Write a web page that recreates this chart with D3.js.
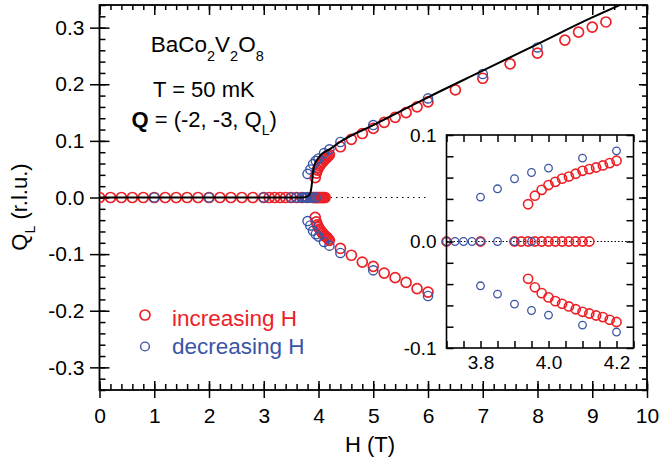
<!DOCTYPE html>
<html>
<head>
<meta charset="utf-8">
<script src="https://cdn.jsdelivr.net/npm/d3@7"></script>
<style>
body { margin: 0; background: #fff; }
text { font-family: "Liberation Sans", Arial, Helvetica, sans-serif; fill: #000; }
</style>
</head>
<body>
<div id="chart"></div>
<script>
// tick labels
var xTicks = [0, 1, 2, 3, 4, 5, 6, 7, 8, 9, 10];
var yTicks = [-0.3, -0.2, -0.1, 0.0, 0.1, 0.2, 0.3];
var insetXTicks = [3.8, 4.0, 4.2];
var insetYTicks = [-0.1, 0.0, 0.1];

// increasing H (red)
var incZeroH = [0, 0.2, 0.4, 0.6, 0.8, 1.0, 1.2, 1.4, 1.6, 1.8, 2.0, 2.2, 2.4, 2.6, 2.8, 3.0,
  3.1, 3.2, 3.3, 3.4, 3.5, 3.6, 3.7, 3.8, 3.9, 3.92, 3.94, 3.96, 3.98, 4.0, 4.02, 4.04, 4.06, 4.08, 4.1, 4.12];
var incUpH = [3.94, 3.96, 3.98, 4.0, 4.02, 4.04, 4.06, 4.08, 4.1, 4.12, 4.14, 4.16, 4.18, 4.2,
  4.4, 4.6, 4.8, 5.0, 5.2, 5.4, 5.6, 5.8, 6.0, 6.5, 7.0, 7.5, 8.0, 8.5, 8.75, 9.0, 9.25];
var incUpQ = [0.035, 0.043, 0.0485, 0.053, 0.056, 0.059, 0.061, 0.0636, 0.0664, 0.068, 0.0695, 0.0714, 0.0736, 0.0758,
  0.0896, 0.1027, 0.113, 0.122, 0.1327, 0.1416, 0.150, 0.160, 0.169, 0.19, 0.2106, 0.236, 0.255, 0.278, 0.292, 0.301, 0.310];
var incDownH = [3.94, 3.96, 3.98, 4.0, 4.02, 4.04, 4.06, 4.08, 4.1, 4.12, 4.14, 4.16, 4.18, 4.2,
  4.4, 4.6, 4.8, 5.0, 5.2, 5.4, 5.6, 5.8, 6.0];
var incDownQ = [-0.035, -0.043, -0.0485, -0.0525, -0.056, -0.0585, -0.061, -0.0636, -0.066, -0.0676, -0.0695, -0.071, -0.0735, -0.0756,
  -0.090, -0.102, -0.114, -0.1216, -0.1334, -0.1416, -0.150, -0.161, -0.167];

// decreasing H (blue)
var decZeroH = [1, 2, 3, 3.5, 3.6, 3.7, 3.725, 3.75, 3.775, 3.8, 3.85, 3.9, 3.95];
var decUpH = [3.8, 3.85, 3.9, 3.95, 4.0, 4.1, 4.2, 4.4, 5, 6, 7, 8];
var decUpQ = [0.0417, 0.0495, 0.0589, 0.0648, 0.0689, 0.0783, 0.0851, 0.098, 0.128, 0.175, 0.218, 0.265];
var decDownH = [3.8, 3.85, 3.9, 3.95, 4.0, 4.1, 4.2, 4.4, 5, 6];
var decDownQ = [-0.0416, -0.0494, -0.0588, -0.0648, -0.0691, -0.0785, -0.085, -0.098, -0.1287, -0.174];

// calculated curve (black) and Q=0 reference
var lineH = [0, 3.7, 3.8, 3.85, 3.88, 3.9, 3.92, 3.95, 4.0, 4.06, 4.2, 4.39, 5.0, 5.43, 6.0, 7.0, 8.0, 9.0, 9.6];
var lineQ = [0, 0, 0.002, 0.008, 0.025, 0.045, 0.055, 0.063, 0.07, 0.077, 0.085, 0.098, 0.128, 0.149, 0.177, 0.224, 0.271, 0.318, 0.344];
var dotH = [0, 6];
var insetDotH = [3.7, 4.25];

var RED = "#ec2127", BLUE = "#3b55a5";

function pts(hs, qs) { return hs.map(function(h, i) { return {h: h, q: qs ? qs[i] : 0}; }); }
var incPts = pts(incZeroH).concat(pts(incUpH, incUpQ), pts(incDownH, incDownQ));
var decPts = pts(decZeroH).concat(pts(decUpH, decUpQ), pts(decDownH, decDownQ));

var svg = d3.select("#chart").append("svg").attr("width", 660).attr("height", 461);

var x = d3.scaleLinear().domain([0, 10]).range([99.5, 647]);
var y = d3.scaleLinear().domain([-0.34, 0.34]).range([390, 5]);

var fmt1 = function(d) { return d.toFixed(1); };

function addAxis(tr, axis, fs) {
  var g = svg.append("g").attr("transform", tr).call(axis);
  g.select(".domain").remove();
  g.selectAll("line").attr("stroke", "#000").attr("stroke-width", 1.5);
  g.attr("font-family", null).attr("font-size", null);
  g.selectAll("text").style("font-size", (fs || 21) + "px");
  return g;
}

var xMinor = d3.range(0, 10.01, 0.2);
var yMinor = d3.range(-0.34, 0.341, 0.02).map(function(d) { return +d.toFixed(2); });

// main axes
addAxis("translate(0,390)", d3.axisBottom(x).tickValues(xMinor).tickSize(-6).tickFormat(""));
addAxis("translate(0,390)", d3.axisBottom(x).tickValues(xTicks).tickSize(-9).tickFormat(""));
addAxis("translate(0,390)", d3.axisBottom(x).tickValues(xTicks).tickSize(8).tickPadding(10).tickFormat(String));
addAxis("translate(0,5)", d3.axisTop(x).tickValues(xMinor).tickSize(-5).tickFormat(""));
addAxis("translate(0,5)", d3.axisTop(x).tickValues(xTicks).tickSize(-10).tickFormat(""));
addAxis("translate(99.5,0)", d3.axisLeft(y).tickValues(yMinor).tickSize(-6).tickFormat(""));
addAxis("translate(99.5,0)", d3.axisLeft(y).tickValues(yTicks).tickSize(-10).tickFormat(""));
addAxis("translate(99.5,0)", d3.axisLeft(y).tickValues(yTicks).tickSize(9.5).tickPadding(5.5).tickFormat(fmt1));
addAxis("translate(647,0)", d3.axisRight(y).tickValues(yMinor).tickSize(-5).tickFormat(""));
addAxis("translate(647,0)", d3.axisRight(y).tickValues(yTicks).tickSize(-8).tickFormat(""));

svg.append("rect").attr("x", 99.5).attr("y", 5).attr("width", 547.5).attr("height", 385)
  .attr("fill", "none").attr("stroke", "#000").attr("stroke-width", 1.8);

svg.append("clipPath").attr("id", "clipMain").append("rect")
  .attr("x", 99.5).attr("y", 5).attr("width", 547.5).attr("height", 385);

var plot = svg.append("g").attr("clip-path", "url(#clipMain)");

plot.append("path").datum(dotH)
  .attr("d", d3.line().x(function(d) { return x(d); }).y(y(0)))
  .attr("fill", "none").attr("stroke", "#000").attr("stroke-width", 1.2).attr("stroke-dasharray", "1.5,4");

plot.selectAll("circle.inc").data(incPts).enter().append("circle").attr("class", "inc")
  .attr("cx", function(d) { return x(d.h); }).attr("cy", function(d) { return y(d.q); })
  .attr("r", 5).attr("fill", "none").attr("stroke", RED).attr("stroke-width", 1.7);

plot.selectAll("circle.dec").data(decPts).enter().append("circle").attr("class", "dec")
  .attr("cx", function(d) { return x(d.h); }).attr("cy", function(d) { return y(d.q); })
  .attr("r", 4.6).attr("fill", "none").attr("stroke", BLUE).attr("stroke-width", 1.4);

plot.append("path").datum(pts(lineH, lineQ))
  .attr("d", d3.line().curve(d3.curveMonotoneX).x(function(d) { return x(d.h); }).y(function(d) { return y(d.q); }))
  .attr("fill", "none").attr("stroke", "#000").attr("stroke-width", 2);

// axis titles
svg.append("text").attr("x", 370).attr("y", 452).attr("text-anchor", "middle")
  .style("font-size", "22px").text("H (T)");

var yl = svg.append("text").attr("transform", "translate(27,207) rotate(-90)")
  .attr("text-anchor", "middle").style("font-size", "22px");
yl.append("tspan").text("Q");
yl.append("tspan").attr("dy", 8).style("font-size", "14px").text("L");
yl.append("tspan").attr("dy", -8).text(" (r.l.u.)");

// annotation
var t1 = svg.append("text").attr("x", 150.7).attr("y", 51.7).style("font-size", "22.5px");
t1.append("tspan").text("BaCo");
t1.append("tspan").attr("dy", 9).style("font-size", "14.5px").text("2");
t1.append("tspan").attr("dy", -9).text("V");
t1.append("tspan").attr("dy", 9).style("font-size", "14.5px").text("2");
t1.append("tspan").attr("dy", -9).text("O");
t1.append("tspan").attr("dy", 9).style("font-size", "14.5px").text("8");

svg.append("text").attr("x", 153).attr("y", 96.7).style("font-size", "22px").text("T = 50 mK");

var t3 = svg.append("text").attr("x", 131.5).attr("y", 126.7).style("font-size", "22px");
t3.append("tspan").style("font-weight", "bold").text("Q");
t3.append("tspan").text(" = (-2, -3, Q");
t3.append("tspan").attr("dy", 8).style("font-size", "14px").text("L");
t3.append("tspan").attr("dy", -8).text(")");

// legend
svg.append("circle").attr("cx", 145).attr("cy", 315).attr("r", 5)
  .attr("fill", "none").attr("stroke", RED).attr("stroke-width", 1.7);
svg.append("circle").attr("cx", 145).attr("cy", 346.5).attr("r", 4.4)
  .attr("fill", "none").attr("stroke", BLUE).attr("stroke-width", 1.4);
svg.append("text").attr("x", 172).attr("y", 326).style("font-size", "22.5px").style("fill", RED).text("increasing H");
svg.append("text").attr("x", 172).attr("y", 353.5).style("font-size", "22.5px").style("fill", BLUE).text("decreasing H");

// inset
var xi = d3.scaleLinear().domain([3.7, 4.25]).range([446.5, 633.5]);
var yi = d3.scaleLinear().domain([-0.1, 0.1]).range([348, 135]);

svg.append("rect").attr("x", 446.5).attr("y", 135).attr("width", 187).attr("height", 213).attr("fill", "#fff");
svg.append("clipPath").attr("id", "clipInset").append("rect")
  .attr("x", 440).attr("y", 135).attr("width", 193.5).attr("height", 213);

var ins = svg.append("g").attr("clip-path", "url(#clipInset)");
ins.append("path").datum(insetDotH)
  .attr("d", d3.line().x(function(d) { return xi(d); }).y(yi(0)))
  .attr("fill", "none").attr("stroke", "#000").attr("stroke-width", 1.2).attr("stroke-dasharray", "1.5,2");

function inDom(d) { return d.h >= 3.69 && d.h <= 4.25; }
ins.selectAll("circle.inc").data(incPts.filter(inDom)).enter().append("circle").attr("class", "inc")
  .attr("cx", function(d) { return xi(d.h); }).attr("cy", function(d) { return yi(d.q); })
  .attr("r", 4.6).attr("fill", "none").attr("stroke", RED).attr("stroke-width", 1.6);
ins.selectAll("circle.dec").data(decPts.filter(inDom)).enter().append("circle").attr("class", "dec")
  .attr("cx", function(d) { return xi(d.h); }).attr("cy", function(d) { return yi(d.q); })
  .attr("r", 3.8).attr("fill", "none").attr("stroke", BLUE).attr("stroke-width", 1.3);

var xiMinor = d3.range(3.7, 4.251, 0.05);
var yiMinor = d3.range(-0.1, 0.101, 0.02).map(function(d) { return +d.toFixed(2); });
addAxis("translate(0,348)", d3.axisBottom(xi).tickValues(xiMinor).tickSize(-7).tickFormat(""));
addAxis("translate(0,348)", d3.axisBottom(xi).tickValues(insetXTicks).tickSize(0).tickPadding(8).tickFormat(fmt1), 19);
addAxis("translate(0,135)", d3.axisTop(xi).tickValues(xiMinor).tickSize(-7).tickFormat(""));
addAxis("translate(446.5,0)", d3.axisLeft(yi).tickValues(yiMinor).tickSize(-7).tickFormat(""));
addAxis("translate(446.5,0)", d3.axisLeft(yi).tickValues(insetYTicks).tickSize(0).tickPadding(10).tickFormat(fmt1), 19);
addAxis("translate(633.5,0)", d3.axisRight(yi).tickValues(yiMinor).tickSize(-7).tickFormat(""));

svg.append("rect").attr("x", 446.5).attr("y", 135).attr("width", 187).attr("height", 213)
  .attr("fill", "none").attr("stroke", "#000").attr("stroke-width", 1.6);
</script>
</body>
</html>
